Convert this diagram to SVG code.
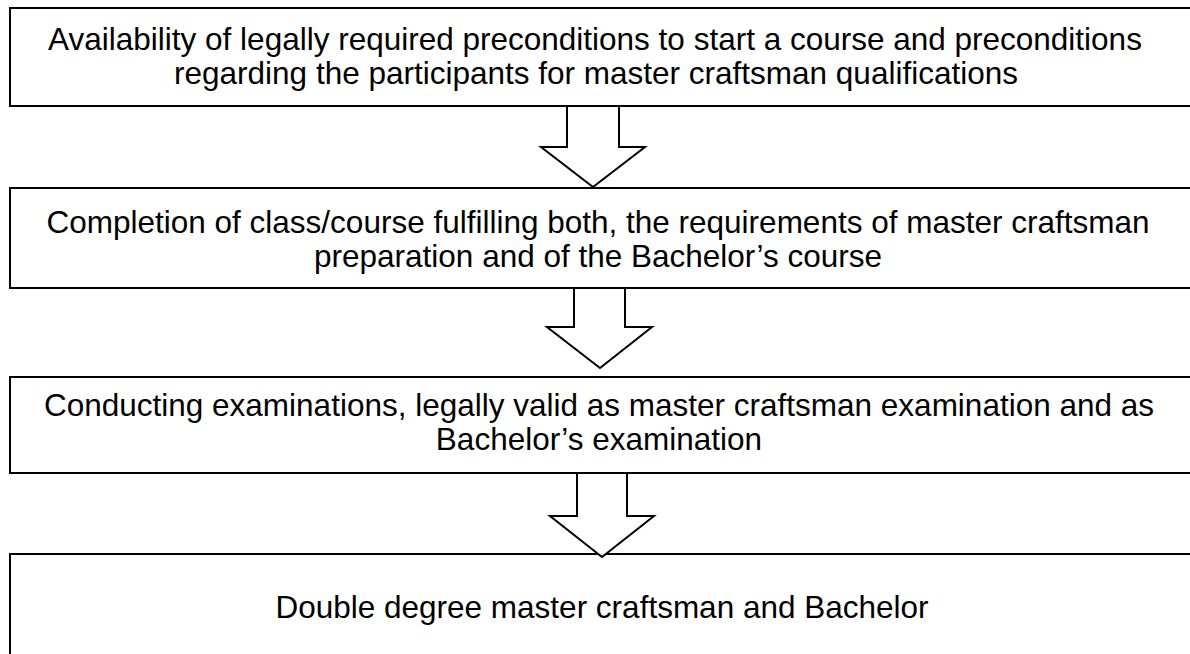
<svg xmlns="http://www.w3.org/2000/svg" width="1190" height="654" viewBox="0 0 1190 654">
<style>
.box{fill:#fff;stroke:#000;stroke-width:2}
.arr{fill:#fff;stroke:#000;stroke-width:2;stroke-linejoin:miter}
.t{font-family:"Liberation Sans",Arial,sans-serif;font-size:31.5px;fill:#000;text-anchor:middle}
</style>
<rect width="1190" height="654" fill="#fff"/>
<g id="node1">
<rect class="box" x="10" y="8" width="1200" height="98"/>
<text class="t" x="595" y="50">Availability of legally required preconditions to start a course and preconditions</text>
<text class="t" x="596" y="84">regarding the participants for master craftsman qualifications</text>
</g>
<g id="node2">
<rect class="box" x="10" y="188" width="1200" height="100"/>
<text class="t" x="598" y="233">Completion of class/course fulfilling both, the requirements of master craftsman</text>
<text class="t" x="598" y="267">preparation and of the Bachelor’s course</text>
</g>
<g id="node3">
<rect class="box" x="10" y="377" width="1200" height="96"/>
<text class="t" x="599" y="416">Conducting examinations, legally valid as master craftsman examination and as</text>
<text class="t" x="599" y="450">Bachelor’s examination</text>
</g>
<g id="node4">
<rect class="box" x="10" y="554" width="1200" height="120"/>
<text class="t" x="602" y="618">Double degree master craftsman and Bachelor</text>
</g>
<g id="connectors">
<polygon class="arr" points="567,106 619,106 619,147 645,147 593,187 541,147 567,147"/>
<polygon class="arr" points="574,288 625,288 625,327 652,327 600,368 547,327 574,327"/>
<polygon class="arr" points="577,473 627,473 627,516 654,516 602,557 550,516 577,516"/>
</g>
</svg>
